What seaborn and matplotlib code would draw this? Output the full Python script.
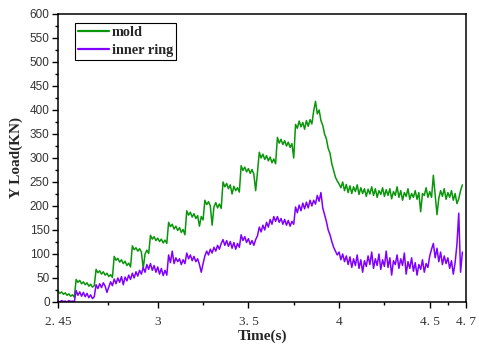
import numpy as np
import pandas as pd
import matplotlib
matplotlib.use("Agg")
import matplotlib.pyplot as plt
import seaborn as sns
from matplotlib.ticker import MultipleLocator, FixedLocator

t_start = 2.45
t_step = 0.01

mold = [
    23, 18, 21, 16, 19, 14, 17, 12, 15, 10,
    47, 41, 45, 38, 42, 36, 40, 33, 37, 31, 34,
    68, 61, 65, 58, 63, 56, 60, 53, 57, 51,
    95, 87, 91, 83, 88, 80, 85, 76, 81, 73,
    117, 109, 113, 106, 111, 104, 70, 100, 108, 101,
    139, 131, 136, 128, 133, 126, 131, 123, 129, 122,
    166, 157, 162, 152, 158, 149, 155, 145, 151, 140,
    190, 181, 187, 177, 184, 174, 180, 158, 178, 171,
    212, 203, 209, 200, 160, 198, 207, 196, 204, 195,
    250, 240, 247, 236, 244, 225, 241, 232, 238, 229,
    284, 274, 281, 271, 278, 268, 276, 266, 232, 270,
    312, 300, 308, 297, 305, 294, 302, 290, 298, 288,
    343, 331, 339, 328, 336, 325, 333, 322, 330, 300,
    370, 362, 377, 365, 374, 360, 378, 366, 380, 371,
    398, 418, 392, 400, 378, 368, 350, 340, 320, 310, 288, 274, 260, 252, 246,
    238, 250, 232, 245, 228, 242, 226, 240, 230, 244,
    224, 238, 226, 236, 220, 235, 225, 240, 222, 236,
    218, 232, 224, 238, 220, 234, 222, 236, 215, 230,
    222, 240, 218, 232, 212, 228, 220, 236, 214, 226,
    218, 232, 214, 228, 188, 226, 222, 238, 218, 230,
    218, 264, 222, 182, 216, 232, 220, 236, 214, 228,
    218, 232, 212, 226, 205, 215, 232, 244,
]

inner_ring = [
    2, 0, 3, 1, 2, 0, 3, 1, 2, 0,
    24, 14, 21, 12, 20, 11, 18, 9, 15, 7, 11,
    36, 28, 38, 30, 40, 33, 20, 31, 42, 34,
    48, 38, 50, 41, 53, 36, 52, 44, 56, 47,
    60, 50, 63, 54, 66, 58, 72, 62, 78, 68,
    80, 66, 76, 62, 73, 58, 70, 55, 66, 56,
    98, 82, 106, 80, 92, 84, 90, 78, 88, 80,
    102, 90, 98, 86, 95, 84, 90, 78, 62, 80,
    96, 106, 98, 110, 102, 114, 106, 118, 110, 122,
    130, 118, 128, 116, 126, 112, 124, 110, 122, 114,
    140, 128, 136, 124, 132, 120, 128, 118, 130, 138,
    156, 146, 160, 150, 166, 156, 172, 162, 178, 168,
    178, 166, 174, 162, 172, 160, 170, 158, 168, 162,
    198, 186, 202, 190, 206, 194, 208, 196, 212, 200,
    212, 204, 222, 210, 228, 196, 182, 168, 150, 140, 126, 114, 106, 98, 104,
    88, 100, 84, 96, 78, 94, 72, 90, 76, 98,
    70, 88, 62, 86, 74, 96, 78, 104, 70, 90,
    76, 100, 68, 88, 74, 106, 72, 92, 56, 86,
    78, 98, 70, 90, 76, 102, 58, 84, 70, 92,
    64, 82, 56, 78, 68, 88, 62, 80, 72, 96,
    110, 122, 92, 112, 84, 104, 78, 96, 80, 92,
    70, 86, 58, 82, 120, 185, 62, 104,
]

series_names = ["mold", "inner ring"]
x_ticks = [2.45, 3, 3.5, 4, 4.5, 4.7]
x_tick_labels = ["2. 45", "3", "3. 5", "4", "4. 5", "4. 7"]
y_ticks = list(range(0, 601, 50))
x_label = "Time(s)"
y_label = "Y Load(KN)"

# ---------------- build table ----------------
time = np.round(t_start + t_step * np.arange(len(mold)), 2)
df = pd.DataFrame({
    "time": np.concatenate([time, time]),
    "load": np.concatenate([mold, inner_ring]),
    "series": [series_names[0]] * len(mold) + [series_names[1]] * len(inner_ring),
})

# ---------------- style ----------------
sns.set_style("ticks")
plt.rcParams["font.family"] = ["Liberation Serif", "DejaVu Serif"]

GREEN = "#0a960a"
PURPLE = "#8000ff"

W, H = 479, 346
fig = plt.figure(figsize=(W / 100, H / 100), dpi=100)
ax = fig.add_axes([58 / W, 1 - 302 / H, 408 / W, 288 / H])

sns.lineplot(data=df, x="time", y="load", hue="series",
             palette={series_names[0]: GREEN, series_names[1]: PURPLE},
             linewidth=1.1, ax=ax, sort=False, estimator=None)

ax.set_xlim(2.45, 4.7)
ax.set_ylim(0, 600)

ax.set_xticks(x_ticks)
ax.set_xticklabels(x_tick_labels, fontsize=9.5, color="#333333",
                   family=["Liberation Serif"])
mids = [(a + b) / 2 for a, b in zip(x_ticks[:-1], x_ticks[1:])]
ax.xaxis.set_minor_locator(FixedLocator(mids))

ax.set_yticks(y_ticks)
ax.yaxis.set_minor_locator(MultipleLocator(25))
for lab in ax.get_yticklabels():
    lab.set_fontsize(8.5)
    lab.set_color("#333333")
    lab.set_family(["Liberation Sans"])

ax.tick_params(axis="both", which="major", direction="out", length=4, width=1,
               color="black", pad=2)
ax.tick_params(axis="both", which="minor", direction="out", length=2.5, width=1,
               color="black")
ax.tick_params(axis="x", pad=6)

for sp in ax.spines.values():
    sp.set_visible(True)
    sp.set_color("black")
    sp.set_linewidth(1.1)

ax.set_xlabel(x_label, fontsize=11, fontweight="bold", labelpad=1)
ax.set_ylabel(y_label, fontsize=11, fontweight="bold", labelpad=5)

handles, labels = ax.get_legend_handles_labels()
leg = ax.legend(handles, labels, loc="upper left", bbox_to_anchor=(0.042, 0.969),
                borderaxespad=0, frameon=True, fancybox=False, framealpha=1,
                edgecolor="black", handlelength=2.2, handletextpad=0.15,
                labelspacing=0.35, borderpad=0.2,
                prop={"weight": "bold", "size": 10.3, "family": "Liberation Serif"})
leg.get_frame().set_linewidth(0.8)
for h in leg.get_lines():
    h.set_linewidth(1.6)

fig.savefig("out.png", dpi=100)
